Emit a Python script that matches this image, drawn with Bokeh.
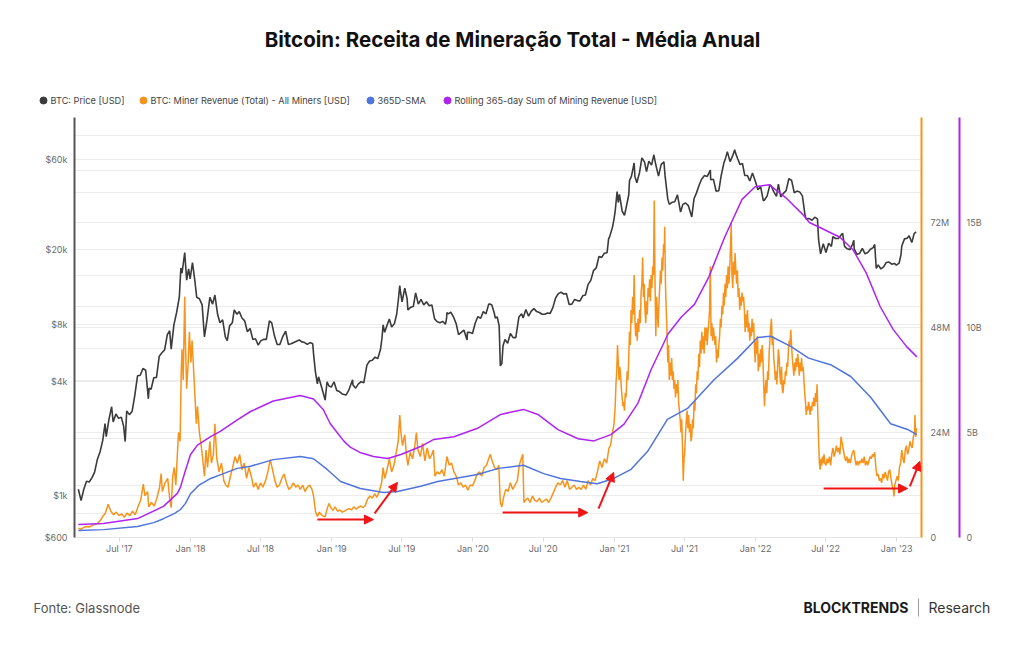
import pandas as pd
from bokeh.plotting import figure
from bokeh.layouts import column
from bokeh.models import (Range1d, LinearAxis, LinearScale, FixedTicker, Grid,
                          Arrow, NormalHead)
from bokeh.core.properties import value
from bokeh.embed import file_html
from bokeh.resources import INLINE

# ---------------------------------------------------------------- data
# BTC price, USD
price_usd = [
    ("2017-03-17", 1080), ("2017-03-24", 940), ("2017-03-31", 1080), ("2017-04-07", 1190),
    ("2017-04-14", 1180), ("2017-04-21", 1240), ("2017-04-28", 1330), ("2017-05-05", 1550),
    ("2017-05-12", 1700), ("2017-05-19", 1960), ("2017-05-25", 2400), ("2017-05-28", 2050),
    ("2017-06-04", 2520), ("2017-06-11", 2950), ("2017-06-15", 2450), ("2017-06-22", 2700),
    ("2017-06-29", 2560), ("2017-07-06", 2600), ("2017-07-12", 2330), ("2017-07-16", 1930),
    ("2017-07-20", 2800), ("2017-07-27", 2680), ("2017-08-03", 2790), ("2017-08-10", 3400),
    ("2017-08-17", 4300), ("2017-08-24", 4330), ("2017-08-31", 4700), ("2017-09-07", 4600),
    ("2017-09-14", 3250), ("2017-09-16", 3700), ("2017-09-21", 3650), ("2017-09-28", 4200),
    ("2017-10-05", 4220), ("2017-10-12", 5450), ("2017-10-19", 5700), ("2017-10-26", 5900),
    ("2017-11-02", 7100), ("2017-11-08", 7450), ("2017-11-12", 5950), ("2017-11-19", 8000),
    ("2017-11-26", 9300), ("2017-12-03", 11200), ("2017-12-07", 16000), ("2017-12-10", 15000),
    ("2017-12-17", 19300), ("2017-12-22", 13800), ("2017-12-27", 15800), ("2017-12-31", 14000),
    ("2018-01-06", 17100), ("2018-01-12", 13800), ("2018-01-17", 11200), ("2018-01-24", 11000),
    ("2018-01-31", 10200), ("2018-02-06", 6900), ("2018-02-13", 8600), ("2018-02-20", 11200),
    ("2018-02-27", 10300), ("2018-03-05", 11500), ("2018-03-12", 9100), ("2018-03-18", 8200),
    ("2018-03-25", 8500), ("2018-04-01", 6900), ("2018-04-06", 6600), ("2018-04-12", 7900),
    ("2018-04-19", 8200), ("2018-04-24", 9600), ("2018-05-01", 9100), ("2018-05-07", 9400),
    ("2018-05-14", 8700), ("2018-05-21", 8400), ("2018-05-28", 7350), ("2018-06-04", 7650),
    ("2018-06-11", 6700), ("2018-06-18", 6750), ("2018-06-25", 6250), ("2018-07-02", 6600),
    ("2018-07-09", 6700), ("2018-07-16", 6700), ("2018-07-24", 8400), ("2018-07-30", 8200),
    ("2018-08-06", 7000), ("2018-08-13", 6300), ("2018-08-20", 6300), ("2018-08-27", 6900),
    ("2018-09-04", 7400), ("2018-09-11", 6300), ("2018-09-18", 6350), ("2018-09-25", 6450),
    ("2018-10-02", 6550), ("2018-10-09", 6650), ("2018-10-16", 6500), ("2018-10-23", 6450),
    ("2018-10-30", 6300), ("2018-11-06", 6450), ("2018-11-13", 6350), ("2018-11-15", 5650),
    ("2018-11-20", 4500), ("2018-11-25", 3900), ("2018-11-28", 4250), ("2018-12-05", 3800),
    ("2018-12-10", 3500), ("2018-12-15", 3200), ("2018-12-20", 4000), ("2018-12-25", 3800),
    ("2018-12-31", 3750), ("2019-01-07", 4000), ("2019-01-14", 3600), ("2019-01-21", 3550),
    ("2019-01-28", 3450), ("2019-02-07", 3400), ("2019-02-14", 3600), ("2019-02-24", 4100),
    ("2019-02-25", 3850), ("2019-03-04", 3700), ("2019-03-11", 3900), ("2019-03-18", 4000),
    ("2019-03-25", 3950), ("2019-04-02", 4900), ("2019-04-09", 5150), ("2019-04-16", 5200),
    ("2019-04-23", 5400), ("2019-04-30", 5300), ("2019-05-07", 5900), ("2019-05-11", 6800),
    ("2019-05-14", 8000), ("2019-05-18", 7300), ("2019-05-25", 8050), ("2019-05-30", 8600),
    ("2019-06-05", 7800), ("2019-06-12", 8100), ("2019-06-18", 9100), ("2019-06-22", 10700),
    ("2019-06-26", 12900), ("2019-06-28", 11900), ("2019-07-02", 10600), ("2019-07-09", 12500),
    ("2019-07-15", 11000), ("2019-07-17", 9600), ("2019-07-24", 9900), ("2019-07-31", 10000),
    ("2019-08-06", 11800), ("2019-08-13", 10300), ("2019-08-20", 10900), ("2019-08-27", 10200),
    ("2019-09-03", 10600), ("2019-09-10", 10100), ("2019-09-17", 10200), ("2019-09-24", 8600),
    ("2019-10-01", 8300), ("2019-10-08", 8200), ("2019-10-15", 8350), ("2019-10-22", 8050),
    ("2019-10-25", 8650), ("2019-10-26", 9300), ("2019-10-30", 9150), ("2019-11-05", 9350),
    ("2019-11-12", 8800), ("2019-11-19", 8100), ("2019-11-25", 7100), ("2019-12-02", 7300),
    ("2019-12-09", 7500), ("2019-12-17", 6650), ("2019-12-18", 7300), ("2019-12-24", 7300),
    ("2019-12-31", 7200), ("2020-01-07", 8150), ("2020-01-14", 8850), ("2020-01-21", 8650),
    ("2020-01-28", 9400), ("2020-02-04", 9150), ("2020-02-11", 10300), ("2020-02-14", 10300),
    ("2020-02-19", 10200), ("2020-02-25", 9300), ("2020-02-28", 8700), ("2020-03-04", 8800),
    ("2020-03-09", 7900), ("2020-03-12", 4850), ("2020-03-16", 5000), ("2020-03-19", 6200),
    ("2020-03-24", 6700), ("2020-03-31", 6400), ("2020-04-07", 7200), ("2020-04-14", 6850),
    ("2020-04-21", 6850), ("2020-04-29", 8800), ("2020-05-06", 9150), ("2020-05-10", 8700),
    ("2020-05-17", 9650), ("2020-05-24", 8900), ("2020-05-31", 9450), ("2020-06-07", 9750),
    ("2020-06-14", 9400), ("2020-06-21", 9300), ("2020-06-28", 9100), ("2020-07-05", 9100),
    ("2020-07-12", 9250), ("2020-07-19", 9200), ("2020-07-26", 9900), ("2020-08-02", 11100),
    ("2020-08-09", 11700), ("2020-08-16", 11900), ("2020-08-23", 11650), ("2020-08-30", 11700),
    ("2020-09-06", 10250), ("2020-09-13", 10300), ("2020-09-20", 10900), ("2020-09-27", 10750),
    ("2020-10-04", 10700), ("2020-10-11", 11400), ("2020-10-18", 11500), ("2020-10-25", 13100),
    ("2020-11-01", 13750), ("2020-11-08", 15500), ("2020-11-15", 16000), ("2020-11-22", 18400),
    ("2020-11-29", 18200), ("2020-12-06", 19150), ("2020-12-13", 19250), ("2020-12-17", 22800),
    ("2020-12-20", 23500), ("2020-12-27", 26300), ("2020-12-31", 29000), ("2021-01-03", 32000),
    ("2021-01-08", 40600), ("2021-01-11", 35500), ("2021-01-14", 39200), ("2021-01-21", 32000),
    ("2021-01-27", 30400), ("2021-01-31", 33100), ("2021-02-07", 38900), ("2021-02-09", 46400),
    ("2021-02-14", 48800), ("2021-02-21", 57500), ("2021-02-23", 48800), ("2021-02-28", 45200),
    ("2021-03-07", 51200), ("2021-03-13", 61200), ("2021-03-20", 58100), ("2021-03-25", 51700),
    ("2021-03-31", 58800), ("2021-04-07", 56000), ("2021-04-13", 63500), ("2021-04-18", 56200),
    ("2021-04-25", 49000), ("2021-05-02", 56500), ("2021-05-09", 58200), ("2021-05-12", 49100),
    ("2021-05-19", 37000), ("2021-05-23", 34700), ("2021-05-30", 35600), ("2021-06-06", 35800),
    ("2021-06-13", 39000), ("2021-06-21", 31600), ("2021-06-27", 34700), ("2021-07-04", 35300),
    ("2021-07-11", 34200), ("2021-07-20", 29800), ("2021-07-26", 37300), ("2021-08-01", 39800),
    ("2021-08-08", 43800), ("2021-08-14", 47000), ("2021-08-22", 49300), ("2021-08-29", 48800),
    ("2021-09-06", 52700), ("2021-09-07", 46800), ("2021-09-14", 47100), ("2021-09-21", 40700),
    ("2021-09-28", 41000), ("2021-10-04", 49200), ("2021-10-11", 57400), ("2021-10-16", 61500),
    ("2021-10-20", 66000), ("2021-10-27", 58400), ("2021-11-03", 62900), ("2021-11-08", 67500),
    ("2021-11-10", 65000), ("2021-11-16", 60300), ("2021-11-22", 56300), ("2021-11-28", 57200),
    ("2021-12-04", 49400), ("2021-12-11", 49300), ("2021-12-17", 46200), ("2021-12-24", 50800),
    ("2021-12-31", 46300), ("2022-01-07", 41500), ("2022-01-14", 43100), ("2022-01-21", 36300),
    ("2022-01-24", 36600), ("2022-01-31", 38500), ("2022-02-07", 44000), ("2022-02-10", 43600),
    ("2022-02-17", 40500), ("2022-02-24", 38300), ("2022-03-01", 44400), ("2022-03-07", 38000),
    ("2022-03-14", 39700), ("2022-03-21", 41000), ("2022-03-28", 47400), ("2022-04-04", 46600),
    ("2022-04-11", 40000), ("2022-04-18", 40800), ("2022-04-25", 40400), ("2022-05-02", 38500),
    ("2022-05-09", 30300), ("2022-05-12", 29000), ("2022-05-20", 29200), ("2022-05-27", 28600),
    ("2022-06-03", 29700), ("2022-06-10", 29100), ("2022-06-13", 22500), ("2022-06-18", 19000),
    ("2022-06-25", 21500), ("2022-07-02", 19300), ("2022-07-09", 21600), ("2022-07-16", 20800),
    ("2022-07-20", 23400), ("2022-07-27", 22900), ("2022-08-03", 22900), ("2022-08-10", 23900),
    ("2022-08-14", 24400), ("2022-08-19", 20800), ("2022-08-26", 20200), ("2022-09-02", 20000),
    ("2022-09-09", 21400), ("2022-09-12", 22400), ("2022-09-13", 20200), ("2022-09-20", 18900),
    ("2022-09-27", 19100), ("2022-10-04", 20300), ("2022-10-11", 19000), ("2022-10-18", 19300),
    ("2022-10-25", 20100), ("2022-11-01", 20500), ("2022-11-05", 21300), ("2022-11-09", 15900),
    ("2022-11-14", 16600), ("2022-11-21", 15800), ("2022-11-28", 16200), ("2022-12-05", 17100),
    ("2022-12-12", 17200), ("2022-12-19", 16750), ("2022-12-26", 16900), ("2022-12-31", 16550),
    ("2023-01-07", 16950), ("2023-01-12", 18800), ("2023-01-14", 20900), ("2023-01-21", 22800),
    ("2023-01-28", 23000), ("2023-02-02", 23700), ("2023-02-09", 21800), ("2023-02-15", 24300),
    ("2023-02-20", 24800),
]

# Daily miner revenue (total, all miners), millions of USD
miner_revenue_musd = [
    ("2017-03-17", 2.1), ("2017-03-24", 1.9), ("2017-03-31", 2.3), ("2017-04-07", 2.5),
    ("2017-04-14", 2.4), ("2017-04-21", 2.7), ("2017-04-28", 3.0), ("2017-05-05", 3.2),
    ("2017-05-12", 3.8), ("2017-05-19", 4.8), ("2017-05-26", 5.6), ("2017-06-02", 7.6),
    ("2017-06-09", 6.0), ("2017-06-16", 5.2), ("2017-06-23", 5.8), ("2017-06-30", 5.0),
    ("2017-07-07", 5.4), ("2017-07-14", 4.6), ("2017-07-21", 5.6), ("2017-07-28", 5.0),
    ("2017-08-04", 6.0), ("2017-08-11", 5.2), ("2017-08-18", 7.0), ("2017-08-25", 8.5),
    ("2017-09-01", 12.2), ("2017-09-05", 9.5), ("2017-09-12", 10.5), ("2017-09-15", 7.0),
    ("2017-09-22", 8.0), ("2017-09-29", 7.2), ("2017-10-06", 9.0), ("2017-10-13", 11.5),
    ("2017-10-17", 14.6), ("2017-10-20", 10.5), ("2017-10-27", 12.5), ("2017-11-03", 13.5),
    ("2017-11-08", 9.0), ("2017-11-12", 6.8), ("2017-11-16", 14.0), ("2017-11-20", 16.0),
    ("2017-11-24", 12.0), ("2017-11-28", 19.0), ("2017-12-01", 24.0), ("2017-12-05", 22.0),
    ("2017-12-08", 38.0), ("2017-12-10", 43.0), ("2017-12-13", 36.0), ("2017-12-17", 55.0),
    ("2017-12-19", 44.0), ("2017-12-22", 34.0), ("2017-12-26", 40.0), ("2017-12-29", 47.0),
    ("2018-01-02", 40.0), ("2018-01-05", 45.0), ("2018-01-08", 40.0), ("2018-01-12", 33.0),
    ("2018-01-16", 26.0), ("2018-01-19", 30.0), ("2018-01-24", 24.0), ("2018-01-30", 20.0),
    ("2018-02-06", 14.0), ("2018-02-10", 20.0), ("2018-02-14", 16.0), ("2018-02-20", 22.0),
    ("2018-02-24", 17.0), ("2018-03-01", 19.0), ("2018-03-05", 26.0), ("2018-03-10", 18.0),
    ("2018-03-16", 15.0), ("2018-03-22", 17.0), ("2018-03-28", 13.0), ("2018-04-02", 12.0),
    ("2018-04-08", 11.5), ("2018-04-14", 14.0), ("2018-04-20", 16.0), ("2018-04-26", 18.5),
    ("2018-05-02", 17.0), ("2018-05-08", 19.0), ("2018-05-14", 15.5), ("2018-05-20", 17.0),
    ("2018-05-26", 13.5), ("2018-06-01", 16.0), ("2018-06-07", 14.0), ("2018-06-13", 11.5),
    ("2018-06-19", 12.5), ("2018-06-25", 11.0), ("2018-07-01", 12.5), ("2018-07-07", 11.5),
    ("2018-07-14", 13.0), ("2018-07-20", 15.0), ("2018-07-26", 17.8), ("2018-08-01", 15.5),
    ("2018-08-07", 13.0), ("2018-08-13", 11.5), ("2018-08-19", 12.0), ("2018-08-25", 13.5),
    ("2018-08-31", 14.5), ("2018-09-06", 12.5), ("2018-09-12", 11.0), ("2018-09-18", 11.5),
    ("2018-09-24", 12.5), ("2018-09-30", 11.5), ("2018-10-06", 12.0), ("2018-10-12", 11.0),
    ("2018-10-18", 12.0), ("2018-10-24", 10.5), ("2018-10-30", 11.5), ("2018-11-05", 12.0),
    ("2018-11-11", 11.0), ("2018-11-15", 9.5), ("2018-11-20", 6.0), ("2018-11-25", 4.8),
    ("2018-11-30", 5.8), ("2018-12-05", 5.2), ("2018-12-10", 4.9), ("2018-12-15", 4.7),
    ("2018-12-20", 6.5), ("2018-12-25", 7.8), ("2018-12-30", 6.8), ("2019-01-04", 6.2),
    ("2019-01-10", 7.0), ("2019-01-16", 6.0), ("2019-01-22", 6.3), ("2019-01-28", 5.8),
    ("2019-02-03", 6.0), ("2019-02-09", 6.4), ("2019-02-15", 6.6), ("2019-02-21", 6.3),
    ("2019-02-27", 7.0), ("2019-03-05", 6.5), ("2019-03-11", 6.9), ("2019-03-17", 7.2),
    ("2019-03-23", 6.8), ("2019-03-29", 7.4), ("2019-04-04", 8.8), ("2019-04-10", 9.5),
    ("2019-04-16", 9.0), ("2019-04-22", 10.0), ("2019-04-28", 9.2), ("2019-05-04", 10.5),
    ("2019-05-10", 12.5), ("2019-05-14", 16.0), ("2019-05-18", 13.5), ("2019-05-24", 15.5),
    ("2019-05-30", 18.0), ("2019-06-05", 15.0), ("2019-06-11", 16.5), ("2019-06-17", 19.5),
    ("2019-06-22", 22.0), ("2019-06-26", 28.0), ("2019-06-29", 24.0), ("2019-07-03", 21.0),
    ("2019-07-09", 23.5), ("2019-07-13", 19.0), ("2019-07-17", 16.5), ("2019-07-23", 19.5),
    ("2019-07-29", 18.0), ("2019-08-04", 21.0), ("2019-08-08", 24.0), ("2019-08-12", 20.0),
    ("2019-08-18", 18.5), ("2019-08-24", 21.5), ("2019-08-30", 17.5), ("2019-09-05", 20.5),
    ("2019-09-11", 18.0), ("2019-09-17", 19.0), ("2019-09-21", 20.0), ("2019-09-25", 14.0),
    ("2019-10-01", 15.0), ("2019-10-07", 14.5), ("2019-10-13", 15.5), ("2019-10-19", 14.0),
    ("2019-10-26", 18.5), ("2019-11-01", 16.5), ("2019-11-07", 17.0), ("2019-11-13", 15.0),
    ("2019-11-19", 14.0), ("2019-11-25", 12.0), ("2019-12-01", 12.5), ("2019-12-07", 11.5),
    ("2019-12-13", 12.0), ("2019-12-19", 10.8), ("2019-12-25", 12.0), ("2019-12-31", 11.8),
    ("2020-01-06", 13.0), ("2020-01-12", 14.5), ("2020-01-18", 15.0), ("2020-01-24", 14.0),
    ("2020-01-30", 16.0), ("2020-02-05", 16.5), ("2020-02-11", 18.0), ("2020-02-15", 19.0),
    ("2020-02-20", 17.5), ("2020-02-26", 16.0), ("2020-03-03", 15.5), ("2020-03-08", 16.5),
    ("2020-03-12", 8.0), ("2020-03-16", 7.0), ("2020-03-20", 9.0), ("2020-03-26", 11.0),
    ("2020-04-01", 10.5), ("2020-04-07", 12.5), ("2020-04-13", 11.0), ("2020-04-19", 12.0),
    ("2020-04-25", 13.0), ("2020-04-30", 16.5), ("2020-05-05", 18.0), ("2020-05-09", 19.0),
    ("2020-05-12", 8.0), ("2020-05-16", 8.5), ("2020-05-22", 9.0), ("2020-05-28", 8.0),
    ("2020-06-03", 9.5), ("2020-06-09", 8.5), ("2020-06-15", 8.2), ("2020-06-21", 9.0),
    ("2020-06-27", 8.0), ("2020-07-03", 8.4), ("2020-07-09", 8.8), ("2020-07-15", 8.0),
    ("2020-07-21", 9.0), ("2020-07-27", 10.2), ("2020-08-02", 11.5), ("2020-08-08", 12.5),
    ("2020-08-14", 12.0), ("2020-08-20", 13.0), ("2020-08-26", 11.5), ("2020-09-01", 13.0),
    ("2020-09-07", 11.0), ("2020-09-13", 11.5), ("2020-09-19", 12.0), ("2020-09-25", 11.0),
    ("2020-10-01", 11.5), ("2020-10-07", 11.0), ("2020-10-13", 12.0), ("2020-10-19", 11.0),
    ("2020-10-25", 13.0), ("2020-10-31", 12.0), ("2020-11-06", 13.5), ("2020-11-12", 13.0),
    ("2020-11-18", 15.0), ("2020-11-24", 17.5), ("2020-11-30", 16.0), ("2020-12-06", 18.0),
    ("2020-12-12", 17.0), ("2020-12-18", 20.5), ("2020-12-22", 21.0), ("2020-12-27", 24.0),
    ("2020-12-31", 26.0),
    ("2021-01-03", 30.0), ("2021-01-05", 35.0), ("2021-01-07", 38.0), ("2021-01-09", 44.0),
    ("2021-01-11", 40.0), ("2021-01-13", 36.0), ("2021-01-15", 39.0), ("2021-01-17", 37.0),
    ("2021-01-19", 34.0), ("2021-01-21", 32.0), ("2021-01-23", 30.0), ("2021-01-25", 31.0),
    ("2021-01-27", 29.0), ("2021-01-29", 33.0), ("2021-01-31", 32.0),
    ("2021-02-01", 34.0), ("2021-02-03", 38.0), ("2021-02-05", 36.0), ("2021-02-07", 41.0),
    ("2021-02-09", 47.0), ("2021-02-11", 44.0), ("2021-02-13", 52.0), ("2021-02-15", 49.0),
    ("2021-02-17", 55.0), ("2021-02-19", 51.0), ("2021-02-21", 60.0), ("2021-02-23", 50.0),
    ("2021-02-25", 46.0), ("2021-02-27", 49.0),
    ("2021-03-01", 45.0), ("2021-03-03", 50.0), ("2021-03-05", 47.0), ("2021-03-07", 52.0),
    ("2021-03-09", 49.0), ("2021-03-11", 56.0), ("2021-03-13", 58.0), ("2021-03-15", 64.0),
    ("2021-03-17", 55.0), ("2021-03-19", 58.0), ("2021-03-21", 52.0), ("2021-03-23", 49.0),
    ("2021-03-25", 54.0), ("2021-03-27", 51.0), ("2021-03-29", 57.0), ("2021-03-31", 55.0),
    ("2021-04-02", 59.0), ("2021-04-04", 54.0), ("2021-04-06", 60.0), ("2021-04-08", 57.0),
    ("2021-04-10", 62.0), ("2021-04-12", 60.0), ("2021-04-14", 77.0), ("2021-04-16", 58.0),
    ("2021-04-18", 46.0), ("2021-04-20", 55.0), ("2021-04-22", 52.0), ("2021-04-24", 48.0),
    ("2021-04-26", 53.0), ("2021-04-28", 57.0), ("2021-04-30", 61.0),
    ("2021-05-02", 58.0), ("2021-05-04", 64.0), ("2021-05-06", 61.0), ("2021-05-08", 67.0),
    ("2021-05-10", 65.0), ("2021-05-11", 71.0), ("2021-05-13", 58.0), ("2021-05-15", 52.0),
    ("2021-05-17", 47.0), ("2021-05-19", 40.0), ("2021-05-21", 44.0), ("2021-05-23", 36.0),
    ("2021-05-25", 40.0), ("2021-05-27", 37.0), ("2021-05-29", 41.0), ("2021-05-31", 36.0),
    ("2021-06-02", 38.0), ("2021-06-04", 34.0), ("2021-06-06", 36.0), ("2021-06-08", 32.0),
    ("2021-06-10", 35.0), ("2021-06-12", 33.0), ("2021-06-14", 36.0), ("2021-06-16", 31.0),
    ("2021-06-18", 29.0), ("2021-06-20", 27.0), ("2021-06-22", 24.0), ("2021-06-24", 27.0),
    ("2021-06-26", 21.0), ("2021-06-28", 13.0), ("2021-06-30", 18.0),
    ("2021-07-02", 20.0), ("2021-07-04", 24.0), ("2021-07-06", 27.0), ("2021-07-08", 29.0),
    ("2021-07-10", 25.0), ("2021-07-12", 28.0), ("2021-07-14", 24.0), ("2021-07-16", 26.0),
    ("2021-07-18", 22.0), ("2021-07-20", 23.0), ("2021-07-22", 27.0), ("2021-07-24", 25.0),
    ("2021-07-26", 31.0), ("2021-07-28", 29.0), ("2021-07-30", 35.0),
    ("2021-08-01", 33.0), ("2021-08-03", 38.0), ("2021-08-05", 36.0), ("2021-08-07", 42.0),
    ("2021-08-09", 39.0), ("2021-08-11", 45.0), ("2021-08-13", 42.0), ("2021-08-15", 47.0),
    ("2021-08-17", 43.0), ("2021-08-19", 46.0), ("2021-08-21", 42.0), ("2021-08-23", 48.0),
    ("2021-08-25", 45.0), ("2021-08-27", 48.0), ("2021-08-29", 44.0), ("2021-08-31", 47.0),
    ("2021-09-02", 49.0), ("2021-09-04", 52.0), ("2021-09-06", 62.0), ("2021-09-08", 46.0),
    ("2021-09-10", 49.0), ("2021-09-12", 45.0), ("2021-09-14", 48.0), ("2021-09-16", 46.0),
    ("2021-09-18", 44.0), ("2021-09-20", 46.0), ("2021-09-22", 40.0), ("2021-09-24", 43.0),
    ("2021-09-26", 41.0), ("2021-09-28", 44.0), ("2021-09-30", 46.0),
    ("2021-10-02", 50.0), ("2021-10-04", 48.0), ("2021-10-06", 53.0), ("2021-10-08", 51.0),
    ("2021-10-10", 56.0), ("2021-10-12", 53.0), ("2021-10-14", 58.0), ("2021-10-16", 55.0),
    ("2021-10-18", 60.0), ("2021-10-20", 57.0), ("2021-10-22", 62.0), ("2021-10-24", 58.0),
    ("2021-10-26", 61.0), ("2021-10-28", 66.0), ("2021-10-30", 72.0),
    ("2021-11-01", 60.0), ("2021-11-03", 57.0), ("2021-11-05", 63.0), ("2021-11-07", 60.0),
    ("2021-11-09", 65.0), ("2021-11-11", 61.0), ("2021-11-13", 58.0), ("2021-11-15", 61.0),
    ("2021-11-17", 55.0), ("2021-11-19", 57.0), ("2021-11-21", 52.0), ("2021-11-23", 55.0),
    ("2021-11-25", 53.0), ("2021-11-27", 56.0), ("2021-11-29", 54.0),
    ("2021-12-01", 55.0), ("2021-12-03", 52.0), ("2021-12-05", 47.0), ("2021-12-07", 51.0),
    ("2021-12-09", 48.0), ("2021-12-11", 52.0), ("2021-12-13", 47.0), ("2021-12-15", 49.0),
    ("2021-12-17", 45.0), ("2021-12-19", 48.0), ("2021-12-21", 46.0), ("2021-12-23", 50.0),
    ("2021-12-25", 47.0), ("2021-12-27", 49.0), ("2021-12-29", 44.0), ("2021-12-31", 40.0),
    ("2022-01-02", 45.0), ("2022-01-04", 42.0), ("2022-01-06", 46.0), ("2022-01-08", 38.0),
    ("2022-01-10", 42.0), ("2022-01-12", 39.0), ("2022-01-14", 43.0), ("2022-01-16", 40.0),
    ("2022-01-18", 44.0), ("2022-01-20", 41.0), ("2022-01-22", 35.0), ("2022-01-24", 30.0),
    ("2022-01-26", 34.0), ("2022-01-28", 36.0), ("2022-01-30", 33.0),
    ("2022-02-01", 38.0), ("2022-02-03", 36.0), ("2022-02-05", 42.0), ("2022-02-07", 45.0),
    ("2022-02-09", 48.0), ("2022-02-11", 50.0), ("2022-02-13", 44.0), ("2022-02-15", 46.0),
    ("2022-02-17", 41.0), ("2022-02-19", 39.0), ("2022-02-21", 36.0), ("2022-02-23", 38.0),
    ("2022-02-25", 35.0), ("2022-02-27", 39.0),
    ("2022-03-01", 43.0), ("2022-03-03", 41.0), ("2022-03-05", 37.0), ("2022-03-07", 35.0),
    ("2022-03-09", 39.0), ("2022-03-11", 34.0), ("2022-03-13", 33.0), ("2022-03-15", 36.0),
    ("2022-03-17", 35.0), ("2022-03-19", 38.0), ("2022-03-21", 37.0), ("2022-03-23", 40.0),
    ("2022-03-25", 39.0), ("2022-03-27", 43.0), ("2022-03-29", 45.0), ("2022-03-31", 44.0),
    ("2022-04-02", 47.5), ("2022-04-04", 44.0), ("2022-04-06", 41.0), ("2022-04-08", 39.0),
    ("2022-04-10", 37.0), ("2022-04-12", 40.0), ("2022-04-14", 38.0), ("2022-04-16", 41.0),
    ("2022-04-18", 39.0), ("2022-04-20", 42.0), ("2022-04-22", 40.0), ("2022-04-24", 37.0),
    ("2022-04-26", 40.0), ("2022-04-28", 38.0), ("2022-04-30", 41.0),
    ("2022-05-02", 38.0), ("2022-05-04", 39.0), ("2022-05-06", 36.0), ("2022-05-08", 33.0),
    ("2022-05-10", 31.0), ("2022-05-12", 28.0), ("2022-05-14", 30.0), ("2022-05-16", 29.0),
    ("2022-05-18", 31.0), ("2022-05-20", 30.0), ("2022-05-22", 28.0), ("2022-05-24", 30.0),
    ("2022-05-26", 29.0), ("2022-05-28", 31.0), ("2022-05-30", 30.0),
    ("2022-06-01", 32.0), ("2022-06-03", 30.0), ("2022-06-05", 33.0), ("2022-06-07", 31.0),
    ("2022-06-09", 35.0), ("2022-06-11", 28.0), ("2022-06-13", 22.0), ("2022-06-15", 17.0),
    ("2022-06-17", 15.5), ("2022-06-19", 18.0), ("2022-06-21", 16.5), ("2022-06-23", 18.5),
    ("2022-06-25", 17.0), ("2022-06-27", 19.0), ("2022-06-29", 17.0),
    ("2022-07-02", 16.5), ("2022-07-05", 18.0), ("2022-07-08", 17.0), ("2022-07-11", 18.5),
    ("2022-07-14", 16.5), ("2022-07-17", 19.0), ("2022-07-20", 20.5), ("2022-07-23", 18.5),
    ("2022-07-26", 19.5), ("2022-07-29", 21.0),
    ("2022-08-01", 19.5), ("2022-08-04", 20.5), ("2022-08-07", 19.0), ("2022-08-10", 23.0),
    ("2022-08-13", 21.5), ("2022-08-16", 20.0), ("2022-08-19", 18.5), ("2022-08-22", 17.5),
    ("2022-08-25", 18.5), ("2022-08-28", 17.0), ("2022-08-31", 18.0),
    ("2022-09-03", 17.0), ("2022-09-06", 18.5), ("2022-09-09", 19.5), ("2022-09-12", 20.0),
    ("2022-09-15", 18.0), ("2022-09-18", 16.5), ("2022-09-21", 17.5), ("2022-09-24", 16.5),
    ("2022-09-27", 17.5), ("2022-09-30", 17.0),
    ("2022-10-03", 18.0), ("2022-10-06", 17.0), ("2022-10-09", 18.5), ("2022-10-12", 16.5),
    ("2022-10-15", 17.5), ("2022-10-18", 16.5), ("2022-10-21", 17.5), ("2022-10-24", 18.5),
    ("2022-10-27", 18.0), ("2022-10-30", 19.0),
    ("2022-11-02", 18.5), ("2022-11-05", 19.5), ("2022-11-08", 16.0), ("2022-11-11", 14.0),
    ("2022-11-14", 14.5), ("2022-11-17", 13.0), ("2022-11-20", 13.5), ("2022-11-23", 12.5),
    ("2022-11-26", 14.5), ("2022-11-29", 13.5),
    ("2022-12-02", 15.0), ("2022-12-05", 14.0), ("2022-12-08", 13.0), ("2022-12-11", 15.0),
    ("2022-12-14", 15.5), ("2022-12-17", 13.5), ("2022-12-20", 12.0), ("2022-12-23", 11.0),
    ("2022-12-25", 9.4), ("2022-12-27", 12.0), ("2022-12-30", 13.0),
    ("2023-01-02", 14.0), ("2023-01-05", 13.0), ("2023-01-08", 16.0), ("2023-01-11", 17.0),
    ("2023-01-14", 20.0), ("2023-01-17", 18.0), ("2023-01-20", 17.0), ("2023-01-23", 20.0),
    ("2023-01-26", 21.0), ("2023-01-29", 19.0),
    ("2023-02-01", 20.0), ("2023-02-04", 22.0), ("2023-02-07", 21.0), ("2023-02-10", 20.5),
    ("2023-02-13", 23.0), ("2023-02-16", 24.0), ("2023-02-17", 28.0), ("2023-02-19", 23.0),
    ("2023-02-21", 25.0),
]

# 365-day simple moving average of miner revenue, millions of USD
revenue_sma_365d_musd = [
    ("2017-03-17", 1.6), ("2017-05-21", 1.8), ("2017-08-17", 2.5), ("2017-09-28", 3.4),
    ("2017-10-23", 4.3), ("2017-11-21", 5.5), ("2017-12-06", 6.4), ("2017-12-19", 7.8),
    ("2018-01-01", 10.0), ("2018-01-22", 11.9), ("2018-02-22", 13.5), ("2018-03-27", 14.6),
    ("2018-05-02", 15.8), ("2018-06-05", 16.3), ("2018-08-03", 17.8), ("2018-10-12", 18.5),
    ("2018-11-15", 18.0), ("2018-12-21", 15.5), ("2019-01-24", 12.8), ("2019-03-16", 11.2),
    ("2019-05-15", 10.3), ("2019-06-20", 10.5), ("2019-08-19", 11.7), ("2019-10-02", 12.8),
    ("2020-01-13", 14.4), ("2020-03-07", 15.8), ("2020-05-11", 16.5), ("2020-07-02", 14.6),
    ("2020-08-15", 13.5), ("2020-10-05", 12.8), ("2020-11-18", 12.3), ("2020-12-30", 13.5),
    ("2021-02-12", 15.5), ("2021-03-28", 19.7), ("2021-05-18", 27.0), ("2021-07-09", 29.5),
    ("2021-09-15", 36.0), ("2021-11-16", 41.0), ("2022-01-06", 45.7), ("2022-02-09", 46.0),
    ("2022-04-02", 43.7), ("2022-05-18", 41.0), ("2022-07-14", 39.5), ("2022-09-04", 36.8),
    ("2022-10-26", 32.0), ("2022-12-16", 26.0), ("2023-01-29", 24.7), ("2023-02-22", 23.5),
]

# Rolling 365-day sum of mining revenue, billions of USD
revenue_sum_365d_busd = [
    ("2017-03-17", 0.62), ("2017-05-21", 0.67), ("2017-08-17", 0.9), ("2017-10-23", 1.48),
    ("2017-11-28", 2.1), ("2017-12-06", 2.4), ("2017-12-19", 3.2), ("2018-01-01", 3.95),
    ("2018-01-19", 4.4), ("2018-02-22", 4.8), ("2018-03-19", 5.05), ("2018-05-02", 5.6),
    ("2018-06-05", 6.0), ("2018-08-03", 6.5), ("2018-10-12", 6.76), ("2018-11-15", 6.6),
    ("2018-12-10", 6.1), ("2018-12-28", 5.43), ("2019-01-15", 5.0), ("2019-02-01", 4.6),
    ("2019-02-18", 4.3), ("2019-03-15", 4.05), ("2019-04-19", 3.86), ("2019-05-26", 3.76),
    ("2019-06-29", 3.95), ("2019-08-19", 4.33), ("2019-09-22", 4.67), ("2019-11-13", 4.8),
    ("2020-01-13", 5.2), ("2020-03-13", 5.86), ("2020-05-11", 6.1), ("2020-06-17", 5.86),
    ("2020-08-08", 5.14), ("2020-09-29", 4.7), ("2020-11-09", 4.6), ("2020-12-23", 4.9),
    ("2021-01-26", 5.4), ("2021-03-03", 6.4), ("2021-04-06", 8.0), ("2021-05-20", 9.7),
    ("2021-06-23", 10.5), ("2021-07-27", 11.1), ("2021-09-02", 12.4), ("2021-10-13", 14.3),
    ("2021-11-27", 16.1), ("2021-12-31", 16.7), ("2022-02-05", 16.8), ("2022-03-19", 16.2),
    ("2022-05-02", 15.4), ("2022-05-20", 15.0), ("2022-06-23", 14.7), ("2022-08-07", 14.3),
    ("2022-09-10", 13.7), ("2022-10-14", 12.6), ("2022-11-19", 11.0), ("2022-12-23", 9.9),
    ("2023-01-26", 9.1), ("2023-02-22", 8.6),
]

# axis ticks and labels
x_tick_dates = ["2017-07-01", "2018-01-01", "2018-07-01", "2019-01-01", "2019-07-01",
                "2020-01-01", "2020-07-01", "2021-01-01", "2021-07-01", "2022-01-01",
                "2022-07-01", "2023-01-01"]
x_tick_labels = ["Jul '17", "Jan '18", "Jul '18", "Jan '19", "Jul '19", "Jan '20",
                 "Jul '20", "Jan '21", "Jul '21", "Jan '22", "Jul '22", "Jan '23"]
price_grid_ticks = [600, 800, 1000, 2000, 4000, 6000, 8000, 10000, 20000, 40000, 60000, 80000]
price_tick_labels = {600: "$600", 1000: "$1k", 4000: "$4k", 8000: "$8k", 20000: "$20k", 60000: "$60k"}
revenue_grid_ticks = [0, 12, 24, 36, 48, 60, 72, 84, 96]
revenue_tick_labels = {0: "0", 24: "24M", 48: "48M", 72: "72M"}
sum_tick_labels = {0: "0", 5: "5B", 10: "10B", 15: "15B"}

# trend arrows: (start date, start revenue M, end date, end revenue M)
arrows_musd = [
    ("2018-11-25", 4.1, "2019-04-19", 4.1),
    ("2019-04-22", 5.5, "2019-06-20", 12.6),
    ("2020-03-18", 5.7, "2020-10-24", 5.7),
    ("2020-11-21", 6.6, "2020-12-30", 14.9),
    ("2022-06-26", 11.2, "2023-01-29", 11.2),
    ("2023-02-04", 11.7, "2023-03-02", 17.4),
]

series_names = ["BTC: Price [USD]", "BTC: Miner Revenue (Total) - All Miners [USD]",
                "365D-SMA", "Rolling 365-day Sum of Mining Revenue [USD]"]
series_colors = ["#3b3b3b", "#f7931a", "#4f74dc", "#b023f2"]

title_text = "Bitcoin: Receita de Mineração Total - Média Anual"
source_text = "Fonte: Glassnode"
brand_text = "BLOCKTRENDS"
brand_suffix = "Research"


# ---------------------------------------------------------------- helpers
def series(pairs):
    df = pd.DataFrame(pairs, columns=["date", "value"])
    df["date"] = pd.to_datetime(df["date"])
    return df


def ms(date_str):
    return pd.Timestamp(date_str).value // 10**6


def blank_strip(height):
    """A full-bleed strip whose data units are pixels (y grows downward)."""
    f = figure(width=W, height=height, output_backend="svg", toolbar_location=None,
               x_range=Range1d(0, W), y_range=Range1d(height, 0),
               min_border=0, frame_align=False,
               border_fill_color="white", background_fill_color="white")
    f.axis.visible = False
    f.grid.visible = False
    f.outline_line_color = None
    return f


FONT = "Inter"
TICK_COLOR = "#6b6b6b"
W = 1024
HEAD_H, MAIN_H, FOOT_H = 117, 463, 65
FRAME_LEFT, FRAME_RIGHT, FRAME_H = 74, 921, 420

price = series(price_usd)
revenue = series(miner_revenue_musd)
sma = series(revenue_sma_365d_musd)
rsum = series(revenue_sum_365d_busd)

# ---------------------------------------------------------------- header: title + legend
head = blank_strip(HEAD_H)
head.text(x=[512], y=[39], text=[title_text], text_font=value(FONT), text_font_size="20.5px",
          text_font_style="bold", text_color="#111111", text_align="center",
          text_baseline="middle")
legend_x = [43, 143, 370, 447]
head.scatter(x=legend_x, y=[100] * 4, marker="circle", size=7, color=series_colors)
head.text(x=[lx + 7 for lx in legend_x], y=[100] * 4, text=series_names,
          text_font=value(FONT), text_font_size="9.2px", text_color="#444444",
          text_align="left", text_baseline="middle")

# ---------------------------------------------------------------- main chart
p = figure(width=W, height=MAIN_H, output_backend="svg", toolbar_location=None,
           x_axis_type="datetime", y_axis_type="log",
           x_range=Range1d(pd.Timestamp("2017-03-07"), pd.Timestamp("2023-03-06")),
           y_range=Range1d(600, 100000),
           min_border_left=FRAME_LEFT, min_border_right=W - FRAME_RIGHT,
           min_border_top=0, min_border_bottom=MAIN_H - FRAME_H, frame_align=False,
           background_fill_color="white", border_fill_color="white")
p.outline_line_color = None
p.extra_y_ranges = {"rev": Range1d(0, 96), "sum": Range1d(0, 20)}
p.extra_y_scales = {"rev": LinearScale(), "sum": LinearScale()}

p.xgrid.visible = False
p.ygrid.ticker = FixedTicker(ticks=price_grid_ticks)
p.ygrid.grid_line_color = "#ececec"
p.add_layout(Grid(dimension=1, ticker=FixedTicker(ticks=revenue_grid_ticks),
                  y_range_name="rev", grid_line_color="#ececec"))

xa = p.xaxis[0]
xa.ticker = FixedTicker(ticks=[ms(d) for d in x_tick_dates])
xa.major_label_overrides = {ms(d): lab for d, lab in zip(x_tick_dates, x_tick_labels)}
xa.axis_line_color = "#e6e6e6"
xa.major_tick_line_color = "#dddddd"
xa.major_tick_in = 0
xa.major_tick_out = 4
xa.minor_tick_line_color = None
xa.major_label_standoff = 1
xa.major_label_text_font = FONT
xa.major_label_text_font_size = "9px"
xa.major_label_text_color = TICK_COLOR

ya = p.yaxis[0]
ya.ticker = FixedTicker(ticks=price_grid_ticks)
ya.major_label_overrides = {t: price_tick_labels.get(t, "") for t in price_grid_ticks}
ya.axis_line_color = "#555555"
ya.axis_line_width = 2
ya.major_tick_line_color = None
ya.major_tick_out = 0
ya.minor_tick_line_color = None
ya.minor_tick_out = 0
ya.major_label_standoff = 7
ya.major_label_text_font = FONT
ya.major_label_text_font_size = "9px"
ya.major_label_text_color = TICK_COLOR

axis_style = dict(major_tick_line_color=None, minor_tick_line_color=None,
                  major_tick_out=0, minor_tick_out=0, major_label_text_font=FONT,
                  major_label_text_font_size="9px", major_label_text_color=TICK_COLOR,
                  axis_line_width=2)
rev_axis = LinearAxis(y_range_name="rev", ticker=FixedTicker(ticks=list(revenue_tick_labels)),
                      major_label_overrides=revenue_tick_labels,
                      axis_line_color=series_colors[1], major_label_standoff=9,
                      axis_label=" ", axis_label_standoff=0,
                      axis_label_text_font_size="3px", **axis_style)
sum_axis = LinearAxis(y_range_name="sum", ticker=FixedTicker(ticks=list(sum_tick_labels)),
                      major_label_overrides=sum_tick_labels,
                      axis_line_color=series_colors[3], major_label_standoff=7,
                      **axis_style)
p.add_layout(rev_axis, "right")
p.add_layout(sum_axis, "right")

p.line(price["date"], price["value"], line_color=series_colors[0], line_width=1.6)
p.line(revenue["date"], revenue["value"], y_range_name="rev",
       line_color=series_colors[1], line_width=1.5)
p.line(sma["date"], sma["value"], y_range_name="rev",
       line_color=series_colors[2], line_width=1.5)
p.line(rsum["date"], rsum["value"], y_range_name="sum",
       line_color=series_colors[3], line_width=1.5)

RED = "#f01414"
for d0, v0, d1, v1 in arrows_musd:
    p.add_layout(Arrow(x_start=ms(d0), y_start=v0, x_end=ms(d1), y_end=v1,
                       y_range_name="rev", line_color=RED, line_width=2,
                       end=NormalHead(size=9, fill_color=RED, line_color=RED, line_width=1)))

# ---------------------------------------------------------------- footer
foot = blank_strip(FOOT_H)
foot.text(x=[33], y=[27], text=[source_text], text_font=value(FONT), text_font_size="13px",
          text_color="#555555", text_align="left", text_baseline="middle")
foot.text(x=[803], y=[27], text=[brand_text], text_font=value(FONT), text_font_size="14px",
          text_font_style="bold", text_color="#1a1a1a", text_align="left",
          text_baseline="middle")
foot.segment(x0=[918], y0=[18], x1=[918], y1=[36], line_color="#9a9a9a", line_width=1)
foot.text(x=[928], y=[27], text=[brand_suffix], text_font=value(FONT), text_font_size="14px",
          text_color="#333333", text_align="left", text_baseline="middle")

layout = column(head, p, foot, spacing=0)
open("out.html", "w").write(file_html(layout, INLINE))
